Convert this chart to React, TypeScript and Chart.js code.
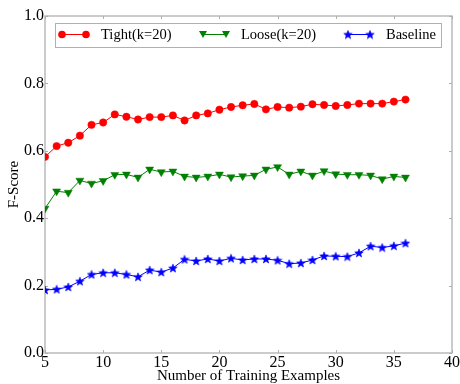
import React, { useEffect, useRef } from "react";
import { Chart, registerables } from "chart.js";

Chart.register(...registerables);

const trainingExamples = [5, 6, 7, 8, 9, 10, 11, 12, 13, 14, 15, 16, 17, 18, 19, 20, 21, 22, 23, 24, 25, 26, 27, 28, 29, 30, 31, 32, 33, 34, 35, 36];
const tightScores = [0.582, 0.614, 0.624, 0.645, 0.677, 0.684, 0.708, 0.701, 0.693, 0.700, 0.700, 0.705, 0.690, 0.705, 0.711, 0.722, 0.730, 0.735, 0.739, 0.723, 0.730, 0.728, 0.731, 0.738, 0.736, 0.733, 0.736, 0.740, 0.740, 0.740, 0.746, 0.752];
const looseScores = [0.429, 0.480, 0.476, 0.512, 0.503, 0.511, 0.529, 0.530, 0.521, 0.545, 0.537, 0.539, 0.524, 0.521, 0.524, 0.530, 0.522, 0.525, 0.527, 0.545, 0.552, 0.530, 0.539, 0.527, 0.540, 0.531, 0.529, 0.529, 0.527, 0.516, 0.524, 0.521];
const baselineScores = [0.187, 0.189, 0.196, 0.213, 0.233, 0.238, 0.238, 0.233, 0.226, 0.246, 0.240, 0.252, 0.278, 0.273, 0.279, 0.273, 0.281, 0.276, 0.279, 0.279, 0.275, 0.265, 0.267, 0.276, 0.288, 0.287, 0.286, 0.297, 0.317, 0.313, 0.318, 0.326];
const seriesLabels = ["Tight(k=20)", "Loose(k=20)", "Baseline"];
const seriesColors = ["#ff0000", "#008000", "#0000ff"];
const xTitle = "Number of Training Examples";
const yTitle = "F-Score";

const SERIF = "'Liberation Serif', 'DejaVu Serif', serif";
const FRAME = "#b0b0b0";

function makeStar(color: string, size: number) {
  const c = document.createElement("canvas");
  c.width = size;
  c.height = size;
  const ctx = c.getContext("2d")!;
  const cx = size / 2, cy = size / 2;
  const outer = size / 2 - 0.5, inner = outer * 0.42;
  ctx.beginPath();
  for (let i = 0; i < 10; i++) {
    const r = i % 2 === 0 ? outer : inner;
    const a = -Math.PI / 2 + (i * Math.PI) / 5;
    const px = cx + r * Math.cos(a), py = cy + r * Math.sin(a) + 0.4;
    if (i === 0) ctx.moveTo(px, py); else ctx.lineTo(px, py);
  }
  ctx.closePath();
  ctx.fillStyle = color;
  ctx.fill();
  ctx.strokeStyle = color;
  ctx.lineWidth = 0.6;
  ctx.stroke();
  return c;
}

export default function App() {
  const ref = useRef<HTMLCanvasElement | null>(null);

  useEffect(() => {
    if (!ref.current) return;
    const star = makeStar(seriesColors[2], 10);

    const framePlugin = {
      id: "frameTicks",
      beforeDatasetsDraw(chart: any) {
        const { ctx, chartArea: a, scales } = chart;
        ctx.save();
        ctx.strokeStyle = FRAME;
        ctx.lineWidth = 1;
        const tl = 3;
        ctx.beginPath();
        scales.x.ticks.forEach((t: any) => {
          const px = Math.round(scales.x.getPixelForValue(t.value)) + 0.5;
          ctx.moveTo(px, a.bottom); ctx.lineTo(px, a.bottom - tl);
          ctx.moveTo(px, a.top); ctx.lineTo(px, a.top + tl);
        });
        scales.y.ticks.forEach((t: any) => {
          const py = Math.round(scales.y.getPixelForValue(t.value)) + 0.5;
          ctx.moveTo(a.left, py); ctx.lineTo(a.left + tl, py);
          ctx.moveTo(a.right, py); ctx.lineTo(a.right - tl, py);
        });
        ctx.stroke();
        ctx.lineWidth = 1.3;
        ctx.strokeRect(a.left, a.top, a.right - a.left, a.bottom - a.top);
        ctx.restore();
      },
      afterDraw(chart: any) {
        const { ctx, chartArea: a } = chart;
        ctx.save();
        const bx = a.left + 10, by = a.top + 7, bw = a.right - a.left - 21, bh = 24;
        ctx.fillStyle = "#ffffff";
        ctx.fillRect(bx, by, bw, bh);
        ctx.strokeStyle = FRAME;
        ctx.lineWidth = 1;
        ctx.strokeRect(bx + 0.5, by + 0.5, bw, bh);
        const cy = by + 11.5;
        const entries = [
          { x0: 7, x1: 31, tx: 46 },
          { x0: 148, x1: 171, tx: 186 },
          { x0: 293, x1: 315, tx: 331 },
        ];
        entries.forEach((e, i) => {
          const col = seriesColors[i];
          const x0 = bx + e.x0, x1 = bx + e.x1;
          ctx.strokeStyle = col;
          ctx.lineWidth = 1;
          ctx.beginPath();
          ctx.moveTo(x0, cy); ctx.lineTo(x1, cy);
          ctx.stroke();
          [x0, x1].forEach((mx) => {
            ctx.fillStyle = col;
            if (i === 0) {
              ctx.beginPath();
              ctx.arc(mx, cy, 3.8, 0, Math.PI * 2);
              ctx.fill();
            } else if (i === 1) {
              ctx.beginPath();
              ctx.moveTo(mx - 4, cy - 3.5);
              ctx.lineTo(mx + 4, cy - 3.5);
              ctx.lineTo(mx, cy + 3.5);
              ctx.closePath();
              ctx.fill();
            } else {
              ctx.drawImage(star, mx - 5, cy - 5);
            }
          });
          ctx.fillStyle = "#000000";
          ctx.font = `14.5px ${SERIF}`;
          ctx.textBaseline = "middle";
          ctx.textAlign = "left";
          ctx.fillText(seriesLabels[i], bx + e.tx, cy + 1);
        });
        ctx.restore();
      },
    };

    const mk = (vals: number[]) => trainingExamples.map((x, i) => ({ x, y: vals[i] }));

    const chart = new Chart(ref.current, {
      type: "line",
      data: {
        datasets: [
          {
            label: seriesLabels[0],
            data: mk(tightScores),
            borderColor: seriesColors[0],
            backgroundColor: seriesColors[0],
            borderWidth: 1,
            pointStyle: "circle",
            pointRadius: 3.7,
            pointBorderWidth: 0.5,
            pointBorderColor: seriesColors[0],
            pointBackgroundColor: seriesColors[0],
            clip: 0,
          },
          {
            label: seriesLabels[1],
            data: mk(looseScores),
            borderColor: seriesColors[1],
            backgroundColor: seriesColors[1],
            borderWidth: 1,
            pointStyle: "triangle",
            rotation: 180,
            pointRadius: 4.6,
            pointBorderWidth: 0.5,
            pointBorderColor: seriesColors[1],
            pointBackgroundColor: seriesColors[1],
            clip: 0,
          },
          {
            label: seriesLabels[2],
            data: mk(baselineScores),
            borderColor: seriesColors[2],
            backgroundColor: seriesColors[2],
            borderWidth: 1,
            pointStyle: star as any,
            pointRadius: 5,
            clip: 0,
          },
        ],
      },
      options: {
        responsive: false,
        animation: false,
        layout: { padding: { top: 16, right: 8, left: 0, bottom: 0 } },
        plugins: {
          legend: { display: false },
          tooltip: { enabled: false },
        },
        scales: {
          x: {
            type: "linear",
            min: 5,
            max: 40,
            border: { display: false },
            grid: { display: false, drawTicks: false },
            ticks: {
              stepSize: 5,
              color: "#000000",
              font: { family: SERIF, size: 16 },
              padding: 0,
              maxRotation: 0,
              autoSkip: false,
            },
            title: {
              display: true,
              text: xTitle,
              color: "#000000",
              font: { family: SERIF, size: 15, lineHeight: 1 },
              padding: { top: 0, bottom: 0 },
            },
            afterFit(scale: any) { scale.height = 31; },
          },
          y: {
            min: 0,
            max: 1,
            border: { display: false },
            grid: { display: false, drawTicks: false },
            ticks: {
              stepSize: 0.2,
              color: "#000000",
              font: { family: SERIF, size: 16 },
              padding: 1,
              callback: (v: any) => Number(v).toFixed(1),
            },
            title: {
              display: true,
              text: yTitle,
              color: "#000000",
              font: { family: SERIF, size: 15, lineHeight: 1 },
              padding: { top: 7, bottom: 0 },
            },
            afterFit(scale: any) { scale.width = 45; },
          },
        },
      },
      plugins: [framePlugin],
    });
    return () => chart.destroy();
  }, []);

  return (
    <div style={{ position: "fixed", left: 0, top: 0, width: 460, height: 384, background: "#ffffff" }}>
      <canvas ref={ref} width={460} height={384} style={{ display: "block" }} />
    </div>
  );
}
